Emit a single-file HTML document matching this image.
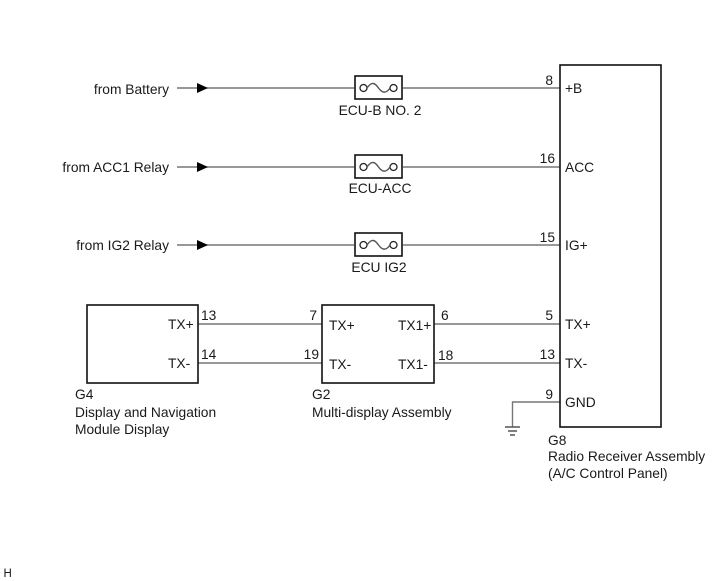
<!DOCTYPE html>
<html><head><meta charset="utf-8"><style>
html,body{margin:0;padding:0;background:#fff}
svg{display:block}
text{font-family:"Liberation Sans",sans-serif;font-size:13.8px;fill:#1a1a1a}
.w{stroke:#777;stroke-width:1.4;fill:none}
.b{stroke:#111;stroke-width:1.6;fill:#fff}
.f{stroke:#222;stroke-width:1.3;fill:#fff}
.g{stroke:#555;stroke-width:1.4;fill:none}
</style></head><body>
<svg width="713" height="581" viewBox="0 0 713 581" xmlns="http://www.w3.org/2000/svg">
<!-- wires -->
<path class="w" d="M177 88H354M403 88H560M177 167H354M403 167H560M177 245H354M403 245H560"/>
<path class="w" d="M198 324H322M198 363H322M434 324H560M434 363H560M560 402H512.500V427"/>
<!-- arrows -->
<path d="M197 83L208 88L197 93Z M197 162L208 167L197 172Z M197 240L208 245L197 250Z" fill="#000"/>
<!-- boxes -->
<rect class="b" x="560" y="65" width="101" height="362"/>
<rect class="b" x="87" y="305" width="111" height="78"/>
<rect class="b" x="322" y="305" width="112" height="78"/>
<!-- fuses -->
<g><rect class="b" x="355" y="76" width="47" height="23"/><circle class="f" cx="363.500" cy="88" r="3.500"/><circle class="f" cx="393.500" cy="88" r="3.500"/><path class="g" d="M367 88C372 81 375 83 378.500 88S386 94 390 88"/></g>
<g><rect class="b" x="355" y="155" width="47" height="23"/><circle class="f" cx="363.500" cy="167" r="3.500"/><circle class="f" cx="393.500" cy="167" r="3.500"/><path class="g" d="M367 167C372 160 375 162 378.500 167S386 173 390 167"/></g>
<g><rect class="b" x="355" y="233" width="47" height="23"/><circle class="f" cx="363.500" cy="245" r="3.500"/><circle class="f" cx="393.500" cy="245" r="3.500"/><path class="g" d="M367 245C372 238 375 240 378.500 245S386 251 390 245"/></g>
<!-- ground -->
<path class="g" d="M505 427H520M508 431H517M510 435H515"/>
<!-- source labels -->
<text x="169" y="94" text-anchor="end">from Battery</text>
<text x="169" y="172" text-anchor="end">from ACC1 Relay</text>
<text x="169" y="250" text-anchor="end">from IG2 Relay</text>
<!-- fuse labels -->
<text x="380" y="115" text-anchor="middle">ECU-B NO. 2</text>
<text x="380" y="193" text-anchor="middle">ECU-ACC</text>
<text x="379" y="272" text-anchor="middle">ECU IG2</text>
<!-- pins -->
<text x="553" y="85" text-anchor="end">8</text>
<text x="555" y="163" text-anchor="end">16</text>
<text x="555" y="242" text-anchor="end">15</text>
<text x="553" y="320" text-anchor="end">5</text>
<text x="555" y="359" text-anchor="end">13</text>
<text x="553" y="399" text-anchor="end">9</text>
<text x="201" y="320">13</text>
<text x="201" y="359">14</text>
<text x="317" y="320" text-anchor="end">7</text>
<text x="319" y="359" text-anchor="end">19</text>
<text x="441" y="320">6</text>
<text x="438" y="360">18</text>
<!-- pin names -->
<text x="565" y="93">+B</text>
<text x="565" y="172">ACC</text>
<text x="565" y="250">IG+</text>
<text x="565" y="329">TX+</text>
<text x="565" y="368">TX-</text>
<text x="565" y="407">GND</text>
<text x="168" y="329">TX+</text>
<text x="168" y="368">TX-</text>
<text x="329" y="330">TX+</text>
<text x="329" y="369">TX-</text>
<text x="398" y="330">TX1+</text>
<text x="398" y="369">TX1-</text>
<!-- component labels -->
<text x="75" y="399">G4</text>
<text x="75" y="417">Display and Navigation</text>
<text x="75" y="434">Module Display</text>
<text x="312" y="399">G2</text>
<text x="312" y="417">Multi-display Assembly</text>
<text x="548" y="445">G8</text>
<text x="548" y="461">Radio Receiver Assembly</text>
<text x="548" y="478">(A/C Control Panel)</text>
<text x="3.500" y="577" style="font-size:11.500px">H</text>
</svg>
</body></html>
